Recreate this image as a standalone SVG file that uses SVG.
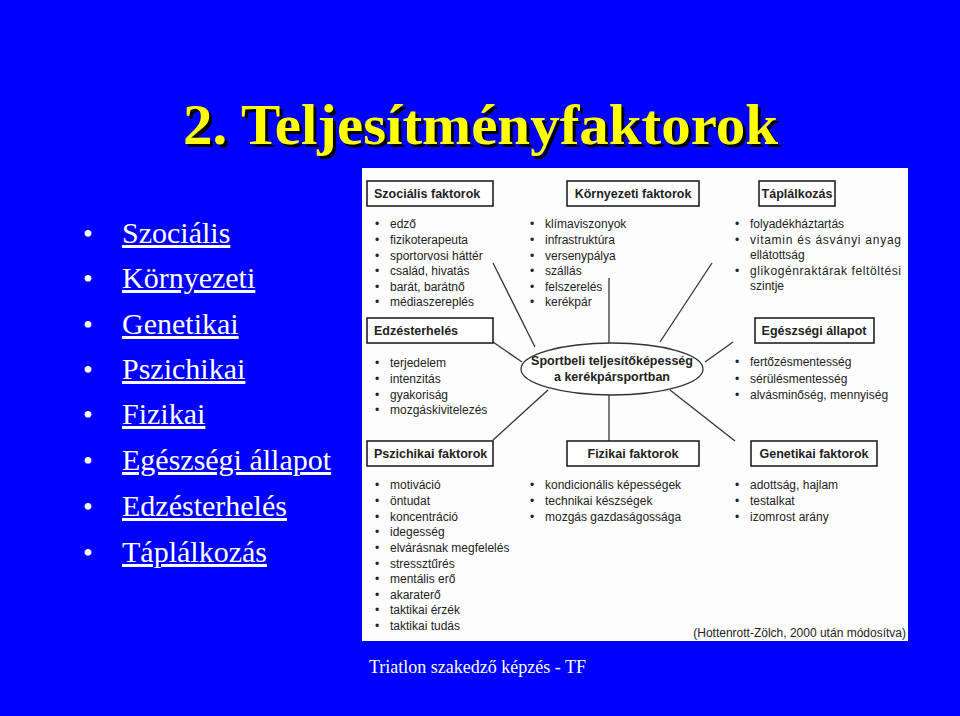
<svg xmlns="http://www.w3.org/2000/svg" width="960" height="716" viewBox="0 0 960 716">
<style>
.b{font-family:"Liberation Serif",serif;font-size:30px;fill:#fff;text-decoration:underline}
.d{font-family:"Liberation Serif",serif;font-size:28px;fill:#fff}
.t{font-family:"Liberation Sans",Arial,sans-serif;font-size:12px;fill:#222}
.h{font-family:"Liberation Sans",Arial,sans-serif;font-size:12.5px;font-weight:bold;fill:#222}
.bx{fill:#fff;stroke:#222;stroke-width:1.6}
.ln{stroke:#333;stroke-width:1.3;fill:none}
</style>
<rect width="960" height="716" fill="#0000ff"/>
<text x="186" y="147" font-family="Liberation Serif,serif" font-size="58" font-weight="bold" fill="#000" textLength="595" lengthAdjust="spacingAndGlyphs">2. Teljesítményfaktorok</text>
<text x="183" y="144" font-family="Liberation Serif,serif" font-size="58" font-weight="bold" fill="#ffff00" textLength="595" lengthAdjust="spacingAndGlyphs">2. Teljesítményfaktorok</text>
<g id="list">
<g class="d"><text x="83" y="243">•</text><text x="83" y="288">•</text><text x="83" y="334">•</text><text x="83" y="379">•</text><text x="83" y="424">•</text><text x="83" y="470">•</text><text x="83" y="516">•</text><text x="83" y="562">•</text></g>
<text class="b" x="122" y="243">Szociális</text>
<text class="b" x="122" y="288">Környezeti</text>
<text class="b" x="122" y="334">Genetikai</text>
<text class="b" x="122" y="379">Pszichikai</text>
<text class="b" x="122" y="424">Fizikai</text>
<text class="b" x="122" y="470">Egészségi állapot</text>
<text class="b" x="122" y="516">Edzésterhelés</text>
<text class="b" x="122" y="562">Táplálkozás</text>
</g>
<rect x="362" y="168" width="546" height="473" fill="#fdfdfd"/>
<g id="connectors">
<line class="ln" x1="493" y1="263" x2="535" y2="347"/>
<line class="ln" x1="609" y1="278" x2="609" y2="343"/>
<line class="ln" x1="712" y1="263" x2="660" y2="342"/>
<line class="ln" x1="493" y1="342" x2="522" y2="362"/>
<line class="ln" x1="733" y1="342" x2="705" y2="362"/>
<line class="ln" x1="493" y1="440" x2="548" y2="390"/>
<line class="ln" x1="609" y1="395" x2="609" y2="441"/>
<line class="ln" x1="670" y1="390" x2="735" y2="441"/>
</g>
<g id="center"><ellipse cx="612" cy="369" rx="91" ry="26" fill="#fff" stroke="#333" stroke-width="1.3"/>
<text class="h" x="612" y="365" text-anchor="middle" font-size="11.5">Sportbeli teljesítőképesség</text>
<text class="h" x="612" y="381" text-anchor="middle" font-size="11.5">a kerékpársportban</text></g>
<g id="szocialis"><rect class="bx" x="367" y="181" width="126" height="25"/><text class="h" x="374" y="198">Szociális faktorok</text>
<g class="t"><text x="375" y="228">•</text><text x="390" y="228">edző</text><text x="375" y="244">•</text><text x="390" y="244">fizikoterapeuta</text><text x="375" y="260">•</text><text x="390" y="260">sportorvosi háttér</text><text x="375" y="275">•</text><text x="390" y="275">család, hivatás</text><text x="375" y="291">•</text><text x="390" y="291">barát, barátnő</text><text x="375" y="306">•</text><text x="390" y="306">médiaszereplés</text></g></g>
<g id="kornyezeti"><rect class="bx" x="567" y="181" width="132" height="25"/><text class="h" x="633" y="198" text-anchor="middle">Környezeti faktorok</text>
<g class="t"><text x="530" y="228">•</text><text x="545" y="228">klímaviszonyok</text><text x="530" y="244">•</text><text x="545" y="244">infrastruktúra</text><text x="530" y="260">•</text><text x="545" y="260">versenypálya</text><text x="530" y="275">•</text><text x="545" y="275">szállás</text><text x="530" y="291">•</text><text x="545" y="291">felszerelés</text><text x="530" y="306">•</text><text x="545" y="306">kerékpár</text></g></g>
<g id="taplalkozas"><rect class="bx" x="759" y="181" width="76" height="25"/><text class="h" x="797" y="198" text-anchor="middle">Táplálkozás</text>
<g class="t"><text x="735" y="228">•</text><text x="750" y="228">folyadékháztartás</text><text x="735" y="244">•</text><text x="750" y="244" textLength="151">vitamin és ásványi anyag</text><text x="750" y="259">ellátottság</text><text x="735" y="275">•</text><text x="750" y="275" textLength="151">glikogénraktárak feltöltési</text><text x="750" y="290">szintje</text></g></g>
<g id="edzes"><rect class="bx" x="367" y="318" width="126" height="25"/><text class="h" x="374" y="335">Edzésterhelés</text>
<g class="t"><text x="375" y="367">•</text><text x="390" y="367">terjedelem</text><text x="375" y="383">•</text><text x="390" y="383">intenzitás</text><text x="375" y="399">•</text><text x="390" y="399">gyakoriság</text><text x="375" y="414">•</text><text x="390" y="414">mozgáskivitelezés</text></g></g>
<g id="egeszseg"><rect class="bx" x="755" y="318" width="119" height="25"/><text class="h" x="814" y="335" text-anchor="middle">Egészségi állapot</text>
<g class="t"><text x="735" y="366">•</text><text x="750" y="366">fertőzésmentesség</text><text x="735" y="383">•</text><text x="750" y="383">sérülésmentesség</text><text x="735" y="399">•</text><text x="750" y="399">alvásminőség, mennyiség</text></g></g>
<g id="pszichikai"><rect class="bx" x="367" y="441" width="126" height="25"/><text class="h" x="374" y="458">Pszichikai faktorok</text>
<g class="t"><text x="375" y="489">•</text><text x="390" y="489">motiváció</text><text x="375" y="505">•</text><text x="390" y="505">öntudat</text><text x="375" y="521">•</text><text x="390" y="521">koncentráció</text><text x="375" y="536">•</text><text x="390" y="536">idegesség</text><text x="375" y="552">•</text><text x="390" y="552">elvárásnak megfelelés</text><text x="375" y="568">•</text><text x="390" y="568">stressztűrés</text><text x="375" y="583">•</text><text x="390" y="583">mentális erő</text><text x="375" y="599">•</text><text x="390" y="599">akaraterő</text><text x="375" y="614">•</text><text x="390" y="614">taktikai érzék</text><text x="375" y="630">•</text><text x="390" y="630">taktikai tudás</text></g></g>
<g id="fizikai"><rect class="bx" x="567" y="441" width="132" height="25"/><text class="h" x="633" y="458" text-anchor="middle">Fizikai faktorok</text>
<g class="t"><text x="530" y="489">•</text><text x="545" y="489">kondicionális képességek</text><text x="530" y="505">•</text><text x="545" y="505">technikai készségek</text><text x="530" y="521">•</text><text x="545" y="521">mozgás gazdaságossága</text></g></g>
<g id="genetikai"><rect class="bx" x="751" y="441" width="126" height="25"/><text class="h" x="814" y="458" text-anchor="middle">Genetikai faktorok</text>
<g class="t"><text x="735" y="489">•</text><text x="750" y="489">adottság, hajlam</text><text x="735" y="505">•</text><text x="750" y="505">testalkat</text><text x="735" y="521">•</text><text x="750" y="521">izomrost arány</text></g></g>
<text class="t" x="906" y="637" text-anchor="end">(Hottenrott-Zölch, 2000 után módosítva)</text>
<text x="369" y="673" font-family="Liberation Serif,serif" font-size="18" fill="#fff">Triatlon szakedző képzés - TF</text>
</svg>
